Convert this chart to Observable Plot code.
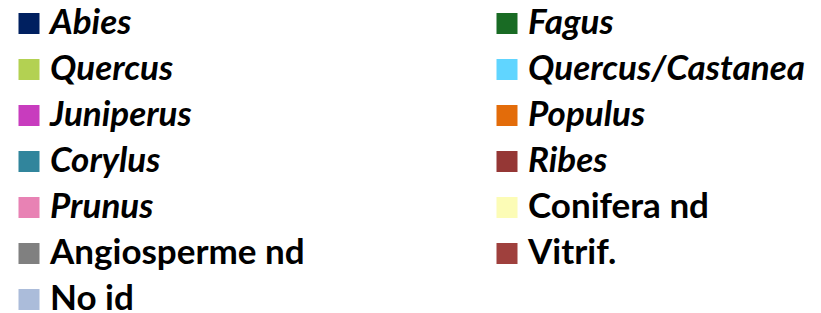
<!DOCTYPE html>
<html>
<head>
<meta charset="utf-8">
<script src="https://cdn.jsdelivr.net/npm/d3@7"></script>
<script src="https://cdn.jsdelivr.net/npm/@observablehq/plot@0.6"></script>
<style>
  html, body { margin: 0; padding: 0; background: #fff; }
</style>
</head>
<body>
<div id="chart"></div>
<script>
// Legend entries in row-major order (two columns)
const labels = ["Abies", "Fagus", "Quercus", "Quercus/Castanea", "Juniperus", "Populus",
  "Corylus", "Ribes", "Prunus", "Conifera nd", "Angiosperme nd", "Vitrif.", "No id"];
const colors = ["#002060", "#196B24", "#B3D152", "#60D5FF", "#C83CBE", "#E36C0A",
  "#31859C", "#953735", "#E882B4", "#FCFCB6", "#808080", "#9F403D", "#ABBCDA"];
const italic = [true, true, true, true, true, true, true, true, true, false, false, false, false];

const items = labels.map((label, i) => ({
  label, color: colors[i], italic: italic[i], col: i % 2, row: Math.floor(i / 2)
}));

const font = "Lato, 'Open Sans', sans-serif";

const chart = Plot.plot({
  width: 821,
  height: 313,
  margin: 0,
  style: { background: "#fff" },
  x: { domain: [0, 1], range: [28.5, 506.5], axis: null },
  y: { type: "point", domain: d3.range(7), range: [22.5, 298.5], padding: 0, axis: null },
  color: { type: "identity" },
  marks: [
    Plot.dot(items, { x: "col", y: "row", fill: "color", symbol: "square", r: 11.85, stroke: null }),
    Plot.text(items.filter(d => d.italic), {
      x: "col", y: "row", text: "label", textAnchor: "start", lineAnchor: "bottom",
      dx: 21, dy: 10.5, fontSize: 35, fontWeight: "bold", fontStyle: "italic",
      fontFamily: font, fill: "#000"
    }),
    Plot.text(items.filter(d => !d.italic), {
      x: "col", y: "row", text: "label", textAnchor: "start", lineAnchor: "bottom",
      dx: 21, dy: 10.5, fontSize: 35, fontWeight: "bold",
      fontFamily: font, fill: "#000"
    })
  ]
});
document.getElementById("chart").append(chart);
</script>
</body>
</html>
